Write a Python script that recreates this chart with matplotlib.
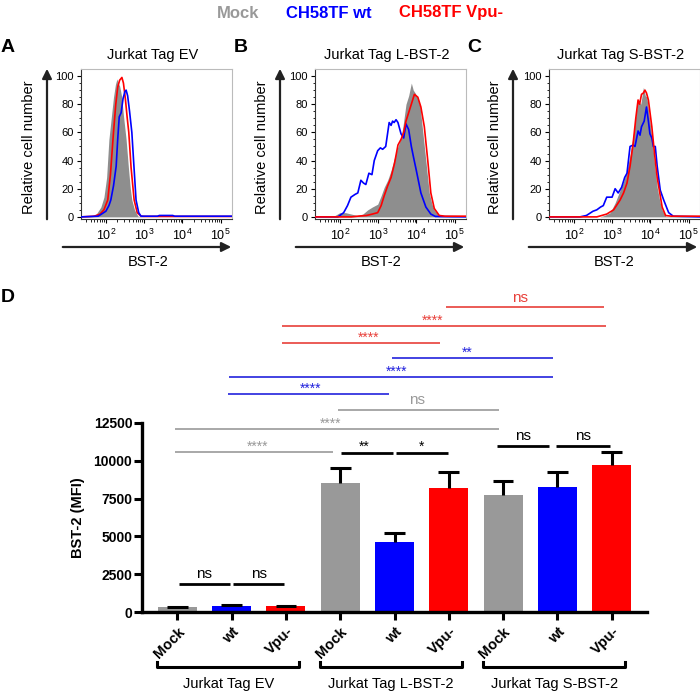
import numpy as np
import matplotlib
matplotlib.use("Agg")
import matplotlib.pyplot as plt
from matplotlib.patches import FancyArrowPatch

plt.rcParams["font.family"] = ["Liberation Sans", "DejaVu Sans"]

W, H = 700, 695

# ── Colours ───────────────────────────────────────────────────────────────────
GRAY = "#999999"
BLUE = "#0000ff"
RED = "#ff0000"
HIST_FILL = "#8e8e8e"

# ── Histogram data (log10 BST-2 intensity, relative cell number) ──────────────
EV_MOCK_LOG = [1.35, 1.60, 1.75, 1.87, 1.95, 2.02, 2.08, 2.14, 2.20, 2.25, 2.29,
               2.32, 2.36, 2.41, 2.46, 2.53, 2.59, 2.64, 2.68, 2.75, 2.84, 3.0, 5.3]
EV_MOCK_PCT = [0, 0.5, 2, 7, 14, 28, 55, 70, 85, 94, 98, 95, 93, 86, 72, 55, 35,
               20, 12, 5, 0.5, 0, 0]
EV_WT_LOG = [1.35, 1.80, 2.00, 2.08, 2.13, 2.20, 2.27, 2.31, 2.35, 2.40, 2.45,
             2.50, 2.53, 2.57, 2.62, 2.68, 2.73, 2.79, 2.86, 2.92, 3.35, 3.40,
             3.75, 3.80, 5.3]
EV_WT_PCT = [0, 0.5, 4, 8, 12, 22, 36, 55, 71, 74, 84, 89, 90, 86, 75, 60, 38,
             12, 3, 0.5, 0.5, 1, 1, 0.5, 0.5]
EV_VPU_LOG = [1.35, 1.70, 1.85, 1.95, 2.05, 2.12, 2.20, 2.26, 2.31, 2.36, 2.42,
              2.46, 2.51, 2.56, 2.60, 2.66, 2.74, 2.82, 2.92, 3.0, 5.3]
EV_VPU_PCT = [0, 0.5, 2, 5, 12, 30, 60, 80, 92, 97, 99, 95, 84, 70, 60, 35, 12,
              3, 0.5, 0.3, 0.3]

L_MOCK_LOG = [1.35, 1.84, 2.00, 2.15, 2.30, 2.45, 2.60, 2.73, 2.85, 2.99, 3.08,
              3.16, 3.25, 3.34, 3.43, 3.52, 3.60, 3.65, 3.73, 3.80, 3.87, 3.92,
              3.97, 4.04, 4.10, 4.21, 4.28, 4.34, 4.41, 4.47, 4.60, 5.3]
L_MOCK_PCT = [0, 0.5, 3, 3, 2, 1, 2, 5, 7, 9, 15, 21, 26, 33, 42, 50, 56, 64, 80,
              86, 95, 90, 88, 84, 78, 50, 32, 17, 9, 5, 0.5, 0]
L_WT_LOG = [1.35, 1.95, 2.10, 2.20, 2.29, 2.40, 2.47, 2.55, 2.62, 2.68, 2.76,
            2.84, 2.90, 2.99, 3.06, 3.12, 3.20, 3.29, 3.34, 3.38, 3.42, 3.47,
            3.52, 3.60, 3.67, 3.73, 3.80, 3.87, 3.93, 4.00, 4.06, 4.12, 4.25,
            4.38, 4.50, 5.3]
L_WT_PCT = [0, 0, 3, 8, 14, 16, 17, 26, 24, 23, 31, 30, 40, 47, 49, 48, 50, 67,
            65, 68, 67, 69, 67, 59, 56, 66, 62, 50, 42, 33, 25, 17, 7, 2, 0.3, 0]
L_VPU_LOG = [1.35, 2.30, 2.47, 2.70, 2.85, 2.99, 3.08, 3.16, 3.25, 3.34, 3.43,
             3.52, 3.60, 3.67, 3.73, 3.80, 3.87, 3.95, 4.04, 4.12, 4.21, 4.30,
             4.38, 4.47, 4.60, 4.75, 5.3]
L_VPU_PCT = [0, 0, 0.5, 1, 2, 3, 8, 15, 22, 28, 38, 51, 55, 60, 68, 74, 80, 87,
             85, 78, 64, 40, 17, 6, 1, 0.5, 0.5]

S_MOCK_LOG = [1.35, 2.68, 2.80, 2.95, 3.08, 3.21, 3.30, 3.39, 3.47, 3.55, 3.62,
              3.68, 3.75, 3.82, 3.87, 3.91, 3.97, 4.04, 4.11, 4.18, 4.25, 4.31,
              4.40, 5.3]
S_MOCK_PCT = [0, 0, 1, 3, 10, 19, 25, 33, 44, 57, 72, 83, 80, 92, 86, 85, 72, 57,
              38, 21, 11, 5, 0.5, 0]
S_WT_LOG = [1.35, 2.16, 2.33, 2.50, 2.60, 2.70, 2.77, 2.86, 2.93, 3.00, 3.08,
            3.16, 3.25, 3.33, 3.39, 3.47, 3.55, 3.60, 3.68, 3.73, 3.77, 3.84,
            3.90, 3.95, 3.99, 4.04, 4.08, 4.13, 4.18, 4.26, 4.35, 4.48, 4.60, 5.3]
S_WT_PCT = [0, 0, 1, 4, 5, 7, 8, 14, 14, 14, 20, 17, 21, 28, 31, 50, 51, 50, 61,
            58, 64, 68, 78, 68, 59, 56, 50, 50, 36, 19, 12, 3, 0.5, 0]
S_VPU_LOG = [1.35, 2.60, 2.86, 3.04, 3.21, 3.30, 3.39, 3.47, 3.55, 3.62, 3.68,
             3.72, 3.77, 3.82, 3.86, 3.90, 3.95, 4.04, 4.11, 4.18, 4.31, 4.40,
             4.55, 5.3]
S_VPU_PCT = [0, 0, 2, 5, 12, 17, 24, 36, 52, 70, 83, 80, 87, 88, 90, 88, 83, 64,
             45, 28, 7, 1, 0.5, 0.5]

HIST_TITLES = ["Jurkat Tag EV", "Jurkat Tag L-BST-2", "Jurkat Tag S-BST-2"]
HIST_LETTERS = ["A", "B", "C"]
HIST_MOCK = [(EV_MOCK_LOG, EV_MOCK_PCT), (L_MOCK_LOG, L_MOCK_PCT), (S_MOCK_LOG, S_MOCK_PCT)]
HIST_WT = [(EV_WT_LOG, EV_WT_PCT), (L_WT_LOG, L_WT_PCT), (S_WT_LOG, S_WT_PCT)]
HIST_VPU = [(EV_VPU_LOG, EV_VPU_PCT), (L_VPU_LOG, L_VPU_PCT), (S_VPU_LOG, S_VPU_PCT)]

# ── Bar data (BST-2 MFI, mean + SEM) ──────────────────────────────────────────
BAR_LABELS = ["Mock", "wt", "Vpu-", "Mock", "wt", "Vpu-", "Mock", "wt", "Vpu-"]
BAR_MFI = [300, 420, 370, 8550, 4650, 8200, 7750, 8300, 9750]
BAR_SEM = [30, 30, 30, 950, 580, 1050, 900, 950, 850]
BAR_COLORS = [GRAY, BLUE, RED] * 3
GROUP_LABELS = ["Jurkat Tag EV", "Jurkat Tag L-BST-2", "Jurkat Tag S-BST-2"]

# significance brackets: x1, x2 (bar index), y (MFI), label, colour, label x
SIG_X1 = [0.03, 1.03, 3.02, 4.03, 5.88, 6.98, -0.05, -0.04, 2.96, 0.94, 0.96, 3.96, 1.92, 1.92, 4.94]
SIG_X2 = [0.97, 1.97, 3.97, 4.98, 6.85, 7.96, 2.87, 5.93, 5.93, 3.89, 6.92, 6.91, 4.84, 7.90, 7.86]
SIG_Y = [1850, 1850, 10530, 10530, 11000, 11000, 10590, 12105, 13355,
         14410, 15530, 16780, 17770, 18890, 20140]
SIG_LABEL = ["ns", "ns", "**", "*", "ns", "ns", "****", "****", "ns",
             "****", "****", "**", "****", "****", "ns"]
SIG_COLOR = ["k", "k", "k", "k", "k", "k", GRAY, GRAY, GRAY,
             "#2222dd", "#2222dd", "#2222dd", "#e8403a", "#e8403a", "#e8403a"]
SIG_TEXT_X = [0.5, 1.5, 3.45, 4.5, 6.37, 7.47, 1.47, 2.83, 4.42,
              2.45, 4.03, 5.34, 3.52, 4.7, 6.32]

fig = plt.figure(figsize=(W / 100, H / 100), dpi=100)


def fx(px):
    return px / W


def fy(py):
    return 1 - py / H


def arrow(x0, y0, x1, y1):
    fig.add_artist(FancyArrowPatch((fx(x0), fy(y0)), (fx(x1), fy(y1)),
                                   transform=fig.transFigure, arrowstyle="-|>",
                                   mutation_scale=14, lw=1.6, color="#222222"))


# ── Legend row ────────────────────────────────────────────────────────────────
for label, color, xc in [("Mock", GRAY, 238), ("CH58TF wt", BLUE, 329),
                         ("CH58TF Vpu-", RED, 451)]:
    fig.text(fx(xc), fy(13), label, color=color, fontsize=12, fontweight="bold",
             ha="center", va="center")

# ── Panels A–C: histograms ────────────────────────────────────────────────────
HIST_LEFT = [81, 315, 549]
for i in range(3):
    left = HIST_LEFT[i]
    ax = fig.add_axes([fx(left), fy(219), 151 / W, 150 / H])
    mx, my = HIST_MOCK[i]
    ax.fill_between(10 ** np.array(mx), my, 0, color=HIST_FILL, lw=0, zorder=1)
    wx, wy = HIST_WT[i]
    ax.plot(10 ** np.array(wx), wy, color=BLUE, lw=1.2, zorder=3)
    vx, vy = HIST_VPU[i]
    ax.plot(10 ** np.array(vx), vy, color=RED, lw=1.2, zorder=2 if i == 0 else 4)
    ax.set_xscale("log")
    ax.set_xlim(10 ** 1.35, 10 ** 5.3)
    ax.set_ylim(-1.5, 105)
    ax.set_xticks([1e2, 1e3, 1e4, 1e5])
    ax.set_yticks([0, 20, 40, 60, 80, 100])
    ax.set_yticks(np.arange(0, 101, 5), minor=True)
    ax.tick_params(axis="y", labelsize=8, length=3, width=0.8, pad=2)
    ax.tick_params(axis="x", labelsize=9, length=3, width=0.8, pad=3)
    ax.tick_params(axis="both", which="minor", length=1.8, width=0.6)
    for s in ["top", "right"]:
        ax.spines[s].set_color("#bbbbbb")
    for s in ["left", "bottom"]:
        ax.spines[s].set_color("#333333")
    for s in ax.spines.values():
        s.set_linewidth(0.8)

    off = [0, 233, 466][i]
    fig.text(fx(left + 72), fy(55), HIST_TITLES[i], fontsize=10.5,
             ha="center", va="center")
    fig.text(fx(off + 8), fy(48), HIST_LETTERS[i], fontsize=14, fontweight="bold",
             ha="center", va="center")
    arrow(off + 47, 222, off + 47, 66)
    fig.text(fx(off + 29), fy(147), "Relative cell number", fontsize=10.5,
             rotation=90, ha="center", va="center")
    arrow(off + 60, 247, off + 234, 247)
    fig.text(fx(off + 148), fy(262), "BST-2", fontsize=10.5, ha="center", va="center")

fig.text(fx(8), fy(297), "D", fontsize=14, fontweight="bold", ha="center", va="center")

# ── Panel D: bar chart ────────────────────────────────────────────────────────
ax = fig.add_axes([fx(142), fy(612), 505 / W, 189 / H])
x = np.arange(len(BAR_MFI))
mfi = np.array(BAR_MFI)
top = mfi + np.array(BAR_SEM)
ax.bar(x, mfi, width=0.72, color=BAR_COLORS, zorder=2)
# upper error bars only (mean -> mean + SEM)
ax.vlines(x, mfi, top, color="k", lw=2.2, zorder=3)
ax.hlines(top, x - 0.19, x + 0.19, color="k", lw=2.2, zorder=3)
ax.set_xlim(-0.65, 8.65)
ax.set_ylim(0, 12500)
ax.set_yticks([0, 2500, 5000, 7500, 10000, 12500])
ax.set_xticks(x)
ax.set_xticklabels(BAR_LABELS, rotation=45, ha="right", rotation_mode="anchor",
                   fontweight="bold", fontsize=10.5)
for lab in ax.get_yticklabels():
    lab.set_fontweight("bold")
ax.tick_params(axis="y", labelsize=10, length=6, width=2.2, pad=1)
ax.tick_params(axis="x", length=6, width=2.2, pad=3)
for s in ["top", "right"]:
    ax.spines[s].set_visible(False)
for s in ["left", "bottom"]:
    ax.spines[s].set_linewidth(2.4)
ax.set_ylabel("BST-2 (MFI)", fontsize=10.5, fontweight="bold", labelpad=6)

# significance brackets
for x1, x2, y, lab, col, tx in zip(SIG_X1, SIG_X2, SIG_Y, SIG_LABEL, SIG_COLOR, SIG_TEXT_X):
    lw = 2.0 if col == "k" else 1.2
    ax.plot([x1, x2], [y, y], color=col, lw=lw, clip_on=False, solid_capstyle="butt")
    if lab == "ns":
        ax.text(tx, y + 380, lab, color=col, fontsize=11, ha="center", va="baseline")
    else:
        ax.text(tx, y + 100, lab, color=col, fontsize=10, ha="center", va="baseline")

# group brackets below the axis
trans = ax.get_xaxis_transform()
for g, name in enumerate(GROUP_LABELS):
    a, b = 3 * g - 0.37, 3 * g + 2 + 0.25
    ax.plot([a, a, b, b], [-0.265, -0.291, -0.291, -0.265], color="k", lw=2.2,
            transform=trans, clip_on=False)
    ax.text((a + b) / 2, -0.38, name, fontsize=10.5, ha="center", va="center",
            transform=trans)

fig.savefig("out.png", dpi=100)
